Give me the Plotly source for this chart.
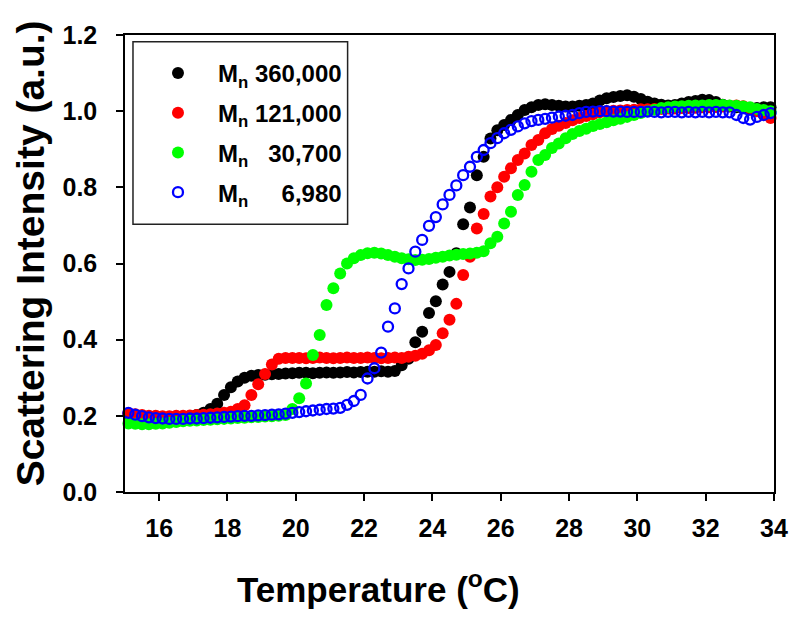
import plotly.graph_objects as go

# temperature grid (deg C)
temperature = [15.1, 15.3, 15.5, 15.7, 15.9, 16.1, 16.3, 16.5, 16.7, 16.9,
               17.1, 17.3, 17.5, 17.7, 17.9, 18.1, 18.3, 18.5, 18.7, 18.9,
               19.1, 19.3, 19.5, 19.7, 19.9, 20.1, 20.3, 20.5, 20.7, 20.9,
               21.1, 21.3, 21.5, 21.7, 21.9, 22.1, 22.3, 22.5, 22.7, 22.9,
               23.1, 23.3, 23.5, 23.7, 23.9, 24.1, 24.3, 24.5, 24.7, 24.9,
               25.1, 25.3, 25.5, 25.7, 25.9, 26.1, 26.3, 26.5, 26.7, 26.9,
               27.1, 27.3, 27.5, 27.7, 27.9, 28.1, 28.3, 28.5, 28.7, 28.9,
               29.1, 29.3, 29.5, 29.7, 29.9, 30.1, 30.3, 30.5, 30.7, 30.9,
               31.1, 31.3, 31.5, 31.7, 31.9, 32.1, 32.3, 32.5, 32.7, 32.9,
               33.1, 33.3, 33.5, 33.7, 33.9]

# Mn 360,000
mn_360000 = [0.205, 0.202, 0.200, 0.198, 0.197, 0.196, 0.196, 0.196, 0.197, 0.199,
             0.202, 0.208, 0.218, 0.232, 0.255, 0.275, 0.290, 0.300, 0.305, 0.307,
             0.308, 0.309, 0.310, 0.311, 0.312, 0.313, 0.313, 0.312, 0.313, 0.314,
             0.313, 0.314, 0.315, 0.314, 0.315, 0.316, 0.316, 0.317, 0.316, 0.318,
             0.333, 0.350, 0.393, 0.421, 0.470, 0.501, 0.545, 0.578, 0.627, 0.703,
             0.747, 0.832, 0.880, 0.928, 0.950, 0.964, 0.977, 0.990, 1.003, 1.010,
             1.016, 1.018, 1.016, 1.014, 1.012, 1.012, 1.014, 1.016, 1.020, 1.028,
             1.034, 1.037, 1.040, 1.042, 1.038, 1.032, 1.025, 1.020, 1.017, 1.015,
             1.016, 1.020, 1.024, 1.027, 1.030, 1.029, 1.024, 1.017, 1.012, 1.010,
             1.008, 1.007, 1.008, 1.010, 1.010]

# Mn 121,000
mn_121000 = [0.207, 0.204, 0.202, 0.200, 0.200, 0.199, 0.199, 0.200, 0.200, 0.201,
             0.202, 0.203, 0.204, 0.206, 0.208, 0.211, 0.218, 0.228, 0.255, 0.283,
             0.310, 0.335, 0.350, 0.352, 0.352, 0.352, 0.351, 0.352, 0.353, 0.352,
             0.351, 0.352, 0.353, 0.352, 0.352, 0.353, 0.352, 0.351, 0.352, 0.353,
             0.352, 0.355, 0.358, 0.363, 0.372, 0.386, 0.417, 0.452, 0.494, 0.570,
             0.618, 0.692, 0.730, 0.776, 0.800, 0.828, 0.850, 0.872, 0.889, 0.911,
             0.924, 0.942, 0.953, 0.962, 0.969, 0.976, 0.982, 0.987, 0.992, 0.997,
             1.000, 1.001, 1.002, 1.003, 1.004, 1.005, 1.005, 1.006, 1.006, 1.007,
             1.007, 1.008, 1.008, 1.009, 1.010, 1.010, 1.011, 1.012, 1.014, 1.015,
             1.013, 1.008, 1.000, 0.990, 0.982]

# Mn 30,700
mn_30700 = [0.180, 0.179, 0.178, 0.178, 0.179, 0.180, 0.182, 0.184, 0.186, 0.187,
            0.188, 0.189, 0.190, 0.191, 0.192, 0.193, 0.194, 0.195, 0.196, 0.197,
            0.198, 0.199, 0.200, 0.202, 0.218, 0.246, 0.285, 0.360, 0.412, 0.491,
            0.535, 0.574, 0.600, 0.614, 0.622, 0.627, 0.628, 0.626, 0.622, 0.618,
            0.614, 0.611, 0.609, 0.610, 0.612, 0.615, 0.618, 0.621, 0.623, 0.625,
            0.626, 0.628, 0.632, 0.653, 0.670, 0.705, 0.736, 0.780, 0.806, 0.841,
            0.872, 0.885, 0.903, 0.915, 0.929, 0.940, 0.948, 0.954, 0.961, 0.966,
            0.971, 0.976, 0.980, 0.985, 0.990, 0.995, 1.000, 1.004, 1.008, 1.010,
            1.012, 1.013, 1.014, 1.015, 1.015, 1.016, 1.016, 1.016, 1.015, 1.014,
            1.012, 1.010, 1.006, 1.003, 1.000]

# Mn 6,980
mn_6980 = [0.208, 0.203, 0.199, 0.196, 0.194, 0.193, 0.192, 0.192, 0.192, 0.193,
           0.193, 0.194, 0.195, 0.196, 0.197, 0.198, 0.199, 0.200, 0.200, 0.201,
           0.202, 0.203, 0.204, 0.206, 0.208, 0.210, 0.212, 0.214, 0.216, 0.218,
           0.219, 0.221, 0.229, 0.239, 0.255, 0.298, 0.325, 0.366, 0.434, 0.482,
           0.546, 0.587, 0.631, 0.662, 0.699, 0.722, 0.755, 0.780, 0.805, 0.832,
           0.854, 0.880, 0.898, 0.916, 0.929, 0.942, 0.951, 0.960, 0.968, 0.974,
           0.977, 0.980, 0.983, 0.986, 0.988, 0.990, 0.995, 0.998, 0.999, 1.000,
           1.000, 0.999, 0.999, 0.998, 0.998, 0.998, 0.999, 0.998, 0.997, 0.998,
           0.998, 0.997, 0.998, 0.997, 0.998, 0.997, 0.998, 0.997, 0.997, 0.990,
           0.982, 0.978, 0.985, 0.990, 0.995]

names = ['M<sub>n</sub> 360,000', 'M<sub>n</sub> 121,000',
         'M<sub>n</sub> \u200730,700', 'M<sub>n</sub> \u2007\u20076,980']
series = [mn_360000, mn_121000, mn_30700, mn_6980]
colors = ['#000000', '#ff0000', '#00ff00', '#0000ff']

FONT = 'Liberation Sans, Arial, sans-serif'

fig = go.Figure()
for i, (name, vals, col) in enumerate(zip(names, series, colors)):
    if i < 3:
        marker = dict(symbol='circle', size=12, color=col, line=dict(width=0))
    else:
        marker = dict(symbol='circle-open', size=10, color=col, line=dict(width=2.3, color=col))
    fig.add_trace(go.Scatter(x=temperature, y=vals, mode='markers', name=name,
                             marker=marker, cliponaxis=False, legendgroup=str(i)))

axis_common = dict(showline=True, linecolor='black', linewidth=1.5, mirror=True,
                   ticks='outside', ticklen=7, tickwidth=1.5, tickcolor='black',
                   showgrid=False, zeroline=False,
                   tickfont=dict(family=FONT, size=25, color='black', weight='bold'))

# page body has an 8px margin, so the figure is 8px smaller than the window
fig.update_layout(
    width=792, height=619,
    margin=dict(l=117, r=22, t=27, b=135),
    plot_bgcolor='white', paper_bgcolor='white',
    xaxis=dict(range=[15, 34], tickvals=[16, 18, 20, 22, 24, 26, 28, 30, 32, 34],
               ticklabelstandoff=6, **axis_common),
    yaxis=dict(range=[0, 1.2], tickvals=[0, 0.2, 0.4, 0.6, 0.8, 1.0, 1.2],
               tickformat='.1f', ticklabelstandoff=14, **axis_common),
    showlegend=True,
    legend=dict(x=0.02, y=0.965, xanchor='left', yanchor='top',
                bgcolor='rgba(0,0,0,0)', borderwidth=0, itemwidth=70,
                tracegroupgap=5.5, traceorder='grouped',
                font=dict(family=FONT, size=24, color='black', weight='bold')),
    shapes=[dict(type='rect', xref='paper', yref='paper',
                 x0=0.0123, x1=0.343, y0=0.586, y1=0.985,
                 line=dict(color='#222222', width=1.5), fillcolor='white', layer='below')],
    annotations=[
        dict(text='Temperature (<sup>o</sup>C)', xref='paper', yref='paper',
             x=0.39, y=-0.208, xanchor='center', yanchor='middle', showarrow=False,
             font=dict(family=FONT, size=35, color='black', weight='bold')),
        dict(text='Scattering Intensity (a.u.)', xref='paper', yref='paper',
             x=-0.145, y=0.522, xanchor='center', yanchor='middle', showarrow=False,
             textangle=-90,
             font=dict(family=FONT, size=39, color='black', weight='bold')),
    ],
)

fig.write_html('out.html')
